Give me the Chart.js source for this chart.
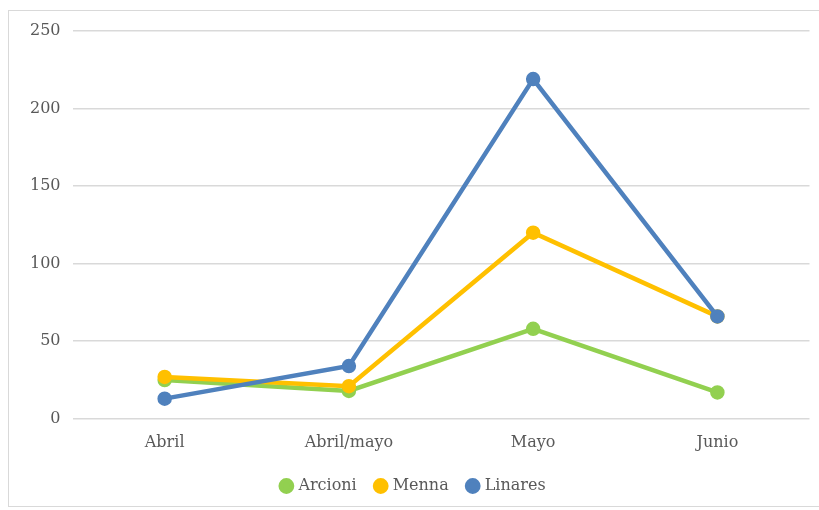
<!DOCTYPE html>
<html>
<head>
<meta charset="utf-8">
<script src="https://cdn.jsdelivr.net/npm/chart.js@4"></script>
<style>
  html, body { margin: 0; padding: 0; background: #fff; }
  #frame {
    position: absolute; left: 8px; top: 10px; width: 830px; height: 497px;
    border: 1px solid #d9d9d9; box-sizing: border-box;
  }
  #wrap { position: absolute; left: 0; top: 0; width: 819px; height: 510px; }
</style>
</head>
<body>
<div id="frame"></div>
<div id="wrap"><canvas id="chart"></canvas></div>
<script>
const categories = ['Abril', 'Abril/mayo', 'Mayo', 'Junio'];
const arcioni = [25, 18, 58, 17];
const menna = [27, 21, 120, 66];
const linares = [13, 34, 219, 66];
const yTicks = [0, 50, 100, 150, 200, 250];

const fontFamily = '"DejaVu Serif", serif';

function series(label, data, color, order) {
    return {
        label: label,
        data: data,
        borderColor: color,
        backgroundColor: color,
        pointBackgroundColor: color,
        pointBorderColor: color,
        borderWidth: 4.5,
        pointRadius: 5,
        pointHoverRadius: 5,
        tension: 0,
        order: order
    };
}

new Chart(document.getElementById('chart').getContext('2d'), {
    type: 'line',
    data: {
        labels: categories,
        datasets: [
            series('Arcioni', arcioni, '#92d050', 3),
            series('Menna', menna, '#ffc000', 2),
            series('Linares', linares, '#4f81bd', 1)
        ]
    },
    options: {
        responsive: true,
        maintainAspectRatio: false,
        animation: false,
        layout: { padding: { left: 18, right: 9, top: 31, bottom: 6 } },
        plugins: {
            legend: {
                position: 'bottom',
                labels: {
                    usePointStyle: true,
                    pointStyle: 'circle',
                    boxWidth: 8,
                    boxHeight: 8,
                    padding: 20,
                    color: '#595959',
                    font: { family: fontFamily, size: 16 },
                    sort: (a, b) => a.datasetIndex - b.datasetIndex
                }
            },
            tooltip: { enabled: false }
        },
        scales: {
            y: {
                min: 0,
                max: 250,
                afterBuildTicks: axis => { axis.ticks = yTicks.map(v => ({ value: v })); },
                grid: { color: '#d9d9d9', lineWidth: 1.5, drawTicks: false },
                border: { display: false },
                ticks: { color: '#595959', padding: 12, font: { family: fontFamily, size: 16 } }
            },
            x: {
                offset: true,
                grid: { display: false },
                border: { display: false },
                ticks: { color: '#595959', padding: 6, font: { family: fontFamily, size: 16 } }
            }
        }
    }
});
</script>
</body>
</html>
